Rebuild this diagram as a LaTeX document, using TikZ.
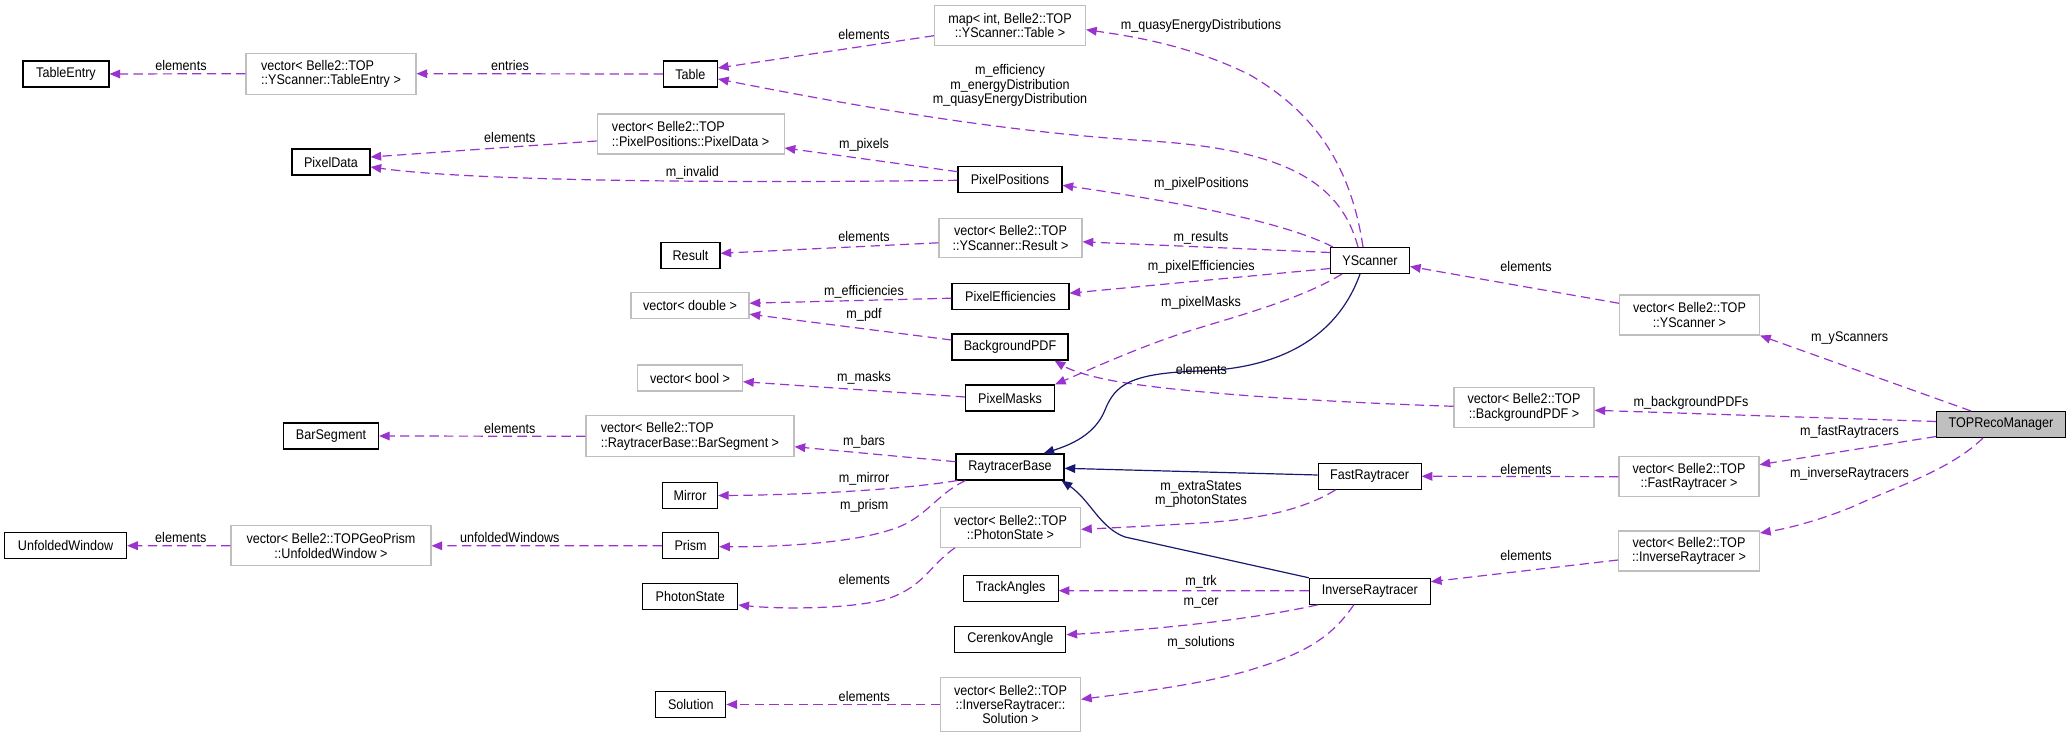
\documentclass[tikz,border=0pt]{standalone}
\usepackage{fontspec}
\setmainfont{Liberation Sans}[FakeStretch=0.9]
\usetikzlibrary{arrows.meta,calc}
\definecolor{depc}{HTML}{9A32CD}
\definecolor{inhc}{HTML}{191970}
\definecolor{tplc}{HTML}{BFBFBF}
\definecolor{hlc}{HTML}{BFBFBF}
\begin{document}
\begin{tikzpicture}[x=0.75pt,y=-0.75pt,
  font=\fontsize{10.5}{10.8}\selectfont,
  cls/.style={draw=black, line width=0.8pt, inner sep=1pt, minimum height=19.5pt},
  tpl/.style={draw=tplc, line width=0.8pt, inner sep=1pt},
  wd/.style={minimum width=#1*0.75pt},
  ht/.style={minimum height=#1*0.75pt},
  dep/.style={draw=depc, dash pattern=on 7pt off 4pt, line width=0.9pt, -{Triangle[length=8pt,width=6.5pt]}},
  inh/.style={draw=inhc, line width=0.9pt, -{Triangle[length=8pt,width=6.5pt]}},
  lbl/.style={inner sep=0pt, align=center}]
\useasboundingbox (0,0) rectangle (2071,738);

% nodes
\node[cls,wd=86] (TE) at (66,74) {TableEntry};
\node[tpl,wd=170,ht=41,align=left] (vTE) at (331,73.7) {vector< Belle2::TOP\\::YScanner::TableEntry >};
\node[cls,wd=54] (Tab) at (690.4,74) {Table};
\node[tpl,wd=151,ht=40,align=center] (map) at (1010,25.7) {map< int, Belle2::TOP\\::YScanner::Table >};
\node[cls,wd=78] (PD) at (331,162) {PixelData};
\node[tpl,wd=187,ht=40,align=left] (vPD) at (690.6,134) {vector< Belle2::TOP\\::PixelPositions::PixelData >};
\node[cls,wd=104] (PP) at (1010,179.3) {PixelPositions};
\node[tpl,wd=143,ht=39,align=center] (vRes) at (1010.5,237.8) {vector< Belle2::TOP\\::YScanner::Result >};
\node[cls,wd=59] (Res) at (690.5,255.3) {Result};
\node[cls,wd=79] (YS) at (1370,260.5) {YScanner};
\node[tpl,wd=140,ht=40,align=center] (vYS) at (1689.5,315) {vector< Belle2::TOP\\::YScanner >};
\node[tpl,wd=140,ht=40,align=center] (vBg) at (1524,407.3) {vector< Belle2::TOP\\::BackgroundPDF >};
\node[cls,wd=129,fill=hlc] (TRM) at (2001,424.5) {TOPRecoManager};
\node[cls,wd=117] (PE) at (1010.5,296.2) {PixelEfficiencies};
\node[tpl,wd=118,ht=26] (vDbl) at (690,305.7) {vector< double >};
\node[cls,wd=116] (Bg) at (1010,347) {BackgroundPDF};
\node[tpl,wd=105,ht=26] (vBool) at (690,378) {vector< bool >};
\node[cls,wd=89] (PM) at (1010,398) {PixelMasks};
\node[tpl,wd=208,ht=41,align=left] (vBar) at (690,436.3) {vector< Belle2::TOP\\::RaytracerBase::BarSegment >};
\node[cls,wd=95] (Bar) at (331,436) {BarSegment};
\node[cls,wd=108] (RB) at (1010,467) {RaytracerBase};
\node[cls,wd=103] (FR) at (1369.6,476.3) {FastRaytracer};
\node[tpl,wd=140,ht=40,align=center] (vFR) at (1689,476.7) {vector< Belle2::TOP\\::FastRaytracer >};
\node[tpl,wd=141,ht=40,align=center] (vIR) at (1689,551) {vector< Belle2::TOP\\::InverseRaytracer >};
\node[cls,wd=121] (IR) at (1369.8,591.3) {InverseRaytracer};
\node[cls,wd=55] (Mir) at (690,495.5) {Mirror};
\node[cls,wd=56] (Pri) at (690.6,545.7) {Prism};
\node[tpl,wd=200,ht=40,align=center] (vUW) at (331,545.8) {vector< Belle2::TOPGeoPrism\\::UnfoldedWindow >};
\node[cls,wd=122] (UW) at (65.6,545.7) {UnfoldedWindow};
\node[cls,wd=95] (PS) at (690.3,596.5) {PhotonState};
\node[tpl,wd=140,ht=40,align=center] (vPS) at (1010.5,527.3) {vector< Belle2::TOP\\::PhotonState >};
\node[cls,wd=95] (TA) at (1010.7,588.3) {TrackAngles};
\node[cls,wd=111] (CA) at (1010.4,639.3) {CerenkovAngle};
\node[tpl,wd=140,ht=54,align=center] (vSol) at (1010.5,704.5) {vector< Belle2::TOP\\::InverseRaytracer::\\Solution >};
\node[cls,wd=70] (Sol) at (690.8,704.5) {Solution};

% usage edges
\draw[dep] (vTE.west) -- (TE.east);
\draw[dep] (Tab.west) -- (vTE.east);
\draw[dep] ($(map.west)+(0,10)$) -- ($(Tab.east)+(0,-6)$);
\draw[dep] ($(YS.north)+(-12,0)$) .. controls (1342,188) and (1295,150) .. (1150,141) .. controls (1000,132) and (850,105) .. ($(Tab.east)+(0,5)$);
\draw[dep] ($(YS.north)+(-7,0)$) .. controls (1350,160) and (1310,110) .. (1250,75) .. controls (1190,45) and (1130,36) .. ($(map.east)+(0,4)$);
\draw[dep] ($(PP.west)+(0,-7.6)$) -- ($(vPD.east)+(0,14)$);
\draw[dep] ($(vPD.west)+(0,7)$) -- ($(PD.east)+(0,-5)$);
\draw[dep] ($(PP.west)+(0,1)$) .. controls (750,183) and (480,182) .. ($(PD.east)+(0,5)$);
\draw[dep] ($(YS.north west)+(3,0)$) .. controls (1290,225) and (1200,205) .. ($(PP.east)+(0,6)$);
\draw[dep] ($(YS.west)+(0,-8)$) -- ($(vRes.east)+(0,4)$);
\draw[dep] ($(vRes.west)+(0,5)$) -- ($(Res.east)+(0,-2)$);
\draw[dep] ($(YS.west)+(0,8)$) -- ($(PE.east)+(0,-3)$);
\draw[dep] ($(PE.west)+(0,2)$) -- ($(vDbl.east)+(0,-2.5)$);
\draw[dep] ($(Bg.west)+(0,-7)$) -- ($(vDbl.east)+(0,8.5)$);
\draw[dep] ($(YS.south west)+(12,0)$) .. controls (1300,300) and (1230,318) .. (1186,332) .. controls (1140,347) and (1100,365) .. (PM.north east);
\draw[dep] ($(PM.west)+(0,-1)$) -- ($(vBool.east)+(0,3.7)$);
\draw[dep] ($(vBg.west)+(0,-1)$) .. controls (1350,403) and (1200,395) .. (1120,382) .. controls (1090,377) and (1070,370) .. ($(Bg.south east)+(-14,0)$);
\draw[dep] ($(TRM.north)+(-30,0)$) -- (vYS.south east);
\draw[dep] ($(vYS.west)+(0,-11.7)$) -- ($(YS.east)+(0,6)$);
\draw[dep] ($(TRM.west)+(0,-3)$) -- ($(vBg.east)+(0,3)$);
\draw[dep] ($(TRM.west)+(0,12)$) -- ($(vFR.east)+(0,-12)$);
\draw[dep] ($(TRM.south)+(-18,0)$) .. controls (1950,470) and (1900,485) .. (1852,507) .. controls (1820,520) and (1790,528) .. ($(vIR.east)+(0,-18)$);
\draw[dep] (vFR.west) -- (FR.east);
\draw[dep] ($(vIR.west)+(0,9)$) -- ($(IR.east)+(0,-9.6)$);
\draw[dep] ($(FR.south west)+(18,0)$) .. controls (1300,512) and (1250,520) .. (1200,523) .. controls (1150,526) and (1110,528) .. ($(vPS.east)+(0,2)$);
\draw[dep] ($(vPS.south west)+(15,0)$) .. controls (930,565) and (925,585) .. (890,598) .. controls (860,608) and (790,610) .. ($(PS.east)+(0,8.5)$);
\draw[dep] ($(RB.west)+(0,-5.3)$) -- ($(vBar.east)+(0,10.4)$);
\draw[dep] (vBar.west) -- (Bar.east);
\draw[dep] ($(RB.south west)+(2,0)$) .. controls (900,490) and (800,495) .. (Mir.east);
\draw[dep] ($(RB.south west)+(10,0)$) .. controls (935,495) and (925,520) .. (890,530) .. controls (850,543) and (780,547) .. ($(Pri.east)+(0,1)$);
\draw[dep] (Pri.west) -- (vUW.east);
\draw[dep] (vUW.west) -- (UW.east);
\draw[dep] ($(IR.west)+(0,-0.6)$) -- ($(TA.east)+(0,2.4)$);
\draw[dep] ($(IR.south west)+(9,0)$) .. controls (1250,620) and (1150,630) .. ($(CA.east)+(0,-4.6)$);
\draw[dep] ($(IR.south)+(-16,0)$) .. controls (1330,640) and (1300,655) .. (1250,670) .. controls (1200,685) and (1130,693) .. ($(vSol.east)+(0,-5.2)$);
\draw[dep] (vSol.west) -- (Sol.east);

% inheritance edges
\draw[inh] ($(YS.south)+(-10,0)$) .. controls (1340,330) and (1290,368) .. (1200,371) .. controls (1130,373) and (1115,385) .. (1105,410) .. controls (1095,435) and (1070,445) .. ($(RB.north east)+(-21,0)$);
\draw[inh] ($(FR.west)+(0,-1.3)$) -- ($(RB.east)+(0,1.3)$);
\draw[inh] (IR.north west) -- (1125,537) .. controls (1100,528) and (1090,500) .. ($(RB.south east)+(-3,0)$);

% edge labels
\node[lbl] (l1) at (181,65.7) {elements};
\node[lbl] (l2) at (510,65.7) {entries};
\node[lbl] (l3) at (864,34.3) {elements};
\node[lbl] (l4) at (1010,85.7) {m\_efficiency\\m\_energyDistribution\\m\_quasyEnergyDistribution};
\node[lbl] (l5) at (1201,25.7) {m\_quasyEnergyDistributions};
\node[lbl] (l6) at (864,145) {m\_pixels};
\node[lbl] (l7) at (509.8,137.3) {elements};
\node[lbl] (l8) at (692.4,173.3) {m\_invalid};
\node[lbl] (l9) at (1201.5,184.3) {m\_pixelPositions};
\node[lbl] (l10) at (1201,237.7) {m\_results};
\node[lbl] (l11) at (864,236) {elements};
\node[lbl] (l12) at (1201.3,266.7) {m\_pixelEfficiencies};
\node[lbl] (l13) at (864,292.3) {m\_efficiencies};
\node[lbl] (l14) at (864,315) {m\_pdf};
\node[lbl] (l15) at (1201,302.7) {m\_pixelMasks};
\node[lbl] (l16) at (864,378.3) {m\_masks};
\node[lbl] (l17) at (1201.3,369.3) {elements};
\node[lbl] (l18) at (1849.7,337.7) {m\_yScanners};
\node[lbl] (l19) at (1526,266.7) {elements};
\node[lbl] (l20) at (1691,402.7) {m\_backgroundPDFs};
\node[lbl] (l21) at (1849.5,432.3) {m\_fastRaytracers};
\node[lbl] (l22) at (1849.5,474) {m\_inverseRaytracers};
\node[lbl] (l23) at (1526,469) {elements};
\node[lbl] (l24) at (1526,555) {elements};
\node[lbl] (l25) at (1201,494) {m\_extraStates\\m\_photonStates};
\node[lbl] (l26) at (864.3,579) {elements};
\node[lbl] (l27) at (864,441.7) {m\_bars};
\node[lbl] (l28) at (509.8,428.3) {elements};
\node[lbl] (l29) at (864,479) {m\_mirror};
\node[lbl] (l30) at (864.3,505.7) {m\_prism};
\node[lbl] (l31) at (509.8,537.7) {unfoldedWindows};
\node[lbl] (l32) at (180.8,537.7) {elements};
\node[lbl] (l33) at (1201,581.7) {m\_trk};
\node[lbl] (l34) at (1201,603.3) {m\_cer};
\node[lbl] (l35) at (1201,643.3) {m\_solutions};
\node[lbl] (l36) at (864.3,696.7) {elements};
\end{tikzpicture}
\end{document}
